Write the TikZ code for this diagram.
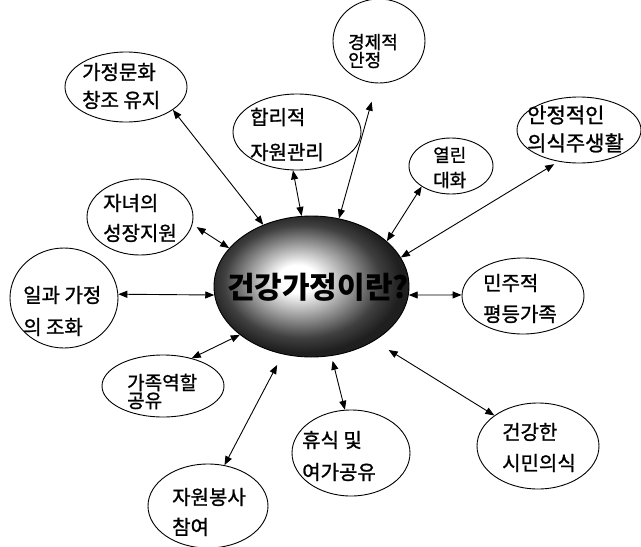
\documentclass[tikz,border=0pt]{standalone}
\usepackage{fontspec}
\setmainfont{Noto Sans CJK KR}
\newfontfamily\krlbl{Noto Sans CJK KR}[FakeBold=1.2]
\usetikzlibrary{shapes.geometric,arrows.meta}
\pgfdeclareradialshading{ctrshade}{\pgfpoint{-4bp}{3bp}}{color(0bp)=(white); color(5bp)=(white); color(13bp)=(black!40); color(20bp)=(black!75); color(25bp)=(black!88); color(50bp)=(black!88)}
\begin{document}
\begin{tikzpicture}[x=1pt,y=-1pt,
  bub/.style={draw, ellipse, line width=0.9pt, inner sep=0pt},
  lbl/.style={font=\krlbl\fontsize{20}{#1}\selectfont, align=left, anchor=west, inner sep=0pt},
  link/.style={line width=0.9pt, {Triangle[length=9pt,width=7pt]}-{Triangle[length=9pt,width=7pt]}}]
\useasboundingbox (0,0) rectangle (641,547);
% centre
\node[draw, shade, shading=ctrshade, ellipse, line width=0.9pt, minimum width=195pt, minimum height=141pt] (c) at (311.5,286.5) {};
\node[font=\fontsize{30}{36}\selectfont\bfseries, inner sep=0pt] (t0) at (318,287) {건강가정이란?};
% bubbles
\node[bub, minimum width=122pt, minimum height=70pt] (n1) at (126,87) {};
\node[bub, minimum width=128pt, minimum height=76pt] (n2) at (297,132) {};
\node[bub, minimum width=92pt, minimum height=84pt] (n3) at (379,41) {};
\node[bub, minimum width=84pt, minimum height=56pt] (n4) at (451,166) {};
\node[bub, minimum width=124pt, minimum height=66pt] (n5) at (579,130) {};
\node[bub, minimum width=106pt, minimum height=76pt] (n6) at (140,217) {};
\node[bub, minimum width=108pt, minimum height=100pt] (n7) at (64,298) {};
\node[bub, minimum width=122pt, minimum height=62pt] (n8) at (163,386) {};
\node[bub, minimum width=120pt, minimum height=84pt] (n9) at (208,506) {};
\node[bub, minimum width=118pt, minimum height=86pt] (n10) at (351,453) {};
\node[bub, minimum width=122pt, minimum height=86pt] (n11) at (538,446) {};
\node[bub, minimum width=122pt, minimum height=76pt] (n12) at (523,296) {};
% labels
\node[lbl=28pt] (t1) at (82,86) {가정문화\\창조 유지};
\node[lbl=35pt] (t2) at (250,134.5) {합리적\\자원관리};
\node[lbl=18pt, font=\krlbl\fontsize{18}{18}\selectfont] (t3) at (348,51) {경제적\\안정};
\node[lbl=25pt, font=\krlbl\fontsize{18}{25}\selectfont] (t4) at (433,167.5) {열린\\대화};
\node[lbl=28pt, font=\krlbl\fontsize{21}{28}\selectfont] (t5) at (527,129) {안정적인\\의식주생활};
\node[lbl=30pt] (t6) at (103,218) {자녀의\\성장지원};
\node[lbl=32pt] (t7) at (23,311) {일과 가정\\의 조화};
\node[lbl=18pt, font=\krlbl\fontsize{19}{18}\selectfont] (t8) at (127,391.5) {가족역할\\공유};
\node[lbl=30pt] (t9) at (172,512) {자원봉사\\참여};
\node[lbl=32pt] (t10) at (302,456) {휴식 및\\여가공유};
\node[lbl=31pt] (t11) at (502,447.5) {건강한\\시민의식};
\node[lbl=31pt] (t12) at (483,298.5) {민주적\\평등가족};
% connectors
\draw[link] (n1.334) -- (c.128);
\draw[link] (n2.264) -- (c.98);
\draw[link, shorten <=19pt] (n3.267) -- (c.68);
\draw[link] (n4.215) -- (c.31);
\draw[link, shorten <=5pt] (n5.237) -- (c.18);
\draw[link, shorten <=5pt] (n6.352) -- (c.155);
\draw[link] (n7.4) -- (c.185);
\draw[link] (n8.44) -- (c.214);
\draw[link, shorten >=12pt] (n9.68) -- (c.247);
\draw[link, shorten >=5pt] (n10.98) -- (c.286);
\draw[link, shorten >=17pt] (n11.145) -- (c.319);
\draw[link] (n12.179) -- (c.355);
\end{tikzpicture}
\end{document}
